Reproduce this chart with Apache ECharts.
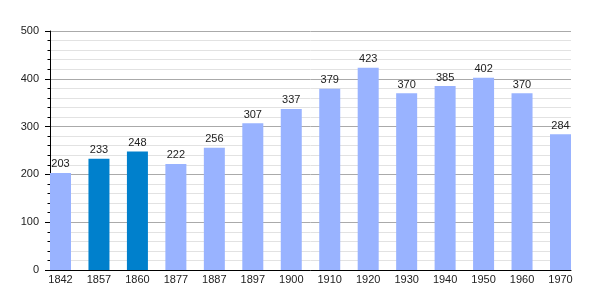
<!DOCTYPE html>
<html><head><meta charset="utf-8">
<script src="https://cdn.jsdelivr.net/npm/echarts@6/dist/echarts.min.js"></script>
<style>html,body{margin:0;padding:0;background:#fff}#c{width:600px;height:300px}</style>
</head><body><div id="c"></div>
<script>
const years = ['1842','1857','1860','1877','1887','1897','1900','1910','1920','1930','1940','1950','1960','1970'];
const population = [203,233,248,222,256,307,337,379,423,370,385,402,370,284];
const highlighted = ['1857','1860'];
const yTicks = [0,100,200,300,400,500];

const chart = echarts.init(document.getElementById('c'), null, {renderer:'canvas'});
const font = 'Liberation Sans, Arial, sans-serif';
chart.setOption({
  animation:false,
  backgroundColor:'#fff',
  grid:[
    {left:50, right:29, top:31, bottom:30},
    {left:60.5, right:39.5, top:31, bottom:30}
  ],
  xAxis:[
    {gridIndex:0, type:'value', min:0, max:1, axisLine:{show:true, lineStyle:{color:'#000', width:1}}, axisTick:{show:false}, axisLabel:{show:false}, splitLine:{show:false}},
    {gridIndex:1, type:'category', data:years, boundaryGap:false, axisLine:{show:false}, axisTick:{show:false}, axisLabel:{margin:4, fontSize:11, fontFamily:font, color:'#222', interval:0}, splitLine:{show:false}}
  ],
  yAxis:[
    {gridIndex:0, type:'value', min:yTicks[0], max:yTicks[yTicks.length-1], interval:100,
     axisLine:{show:true, lineStyle:{color:'#000', width:1}},
     axisTick:{show:true, length:5, lineStyle:{color:'#000'}},
     minorTick:{show:true, splitNumber:5, length:2.5, lineStyle:{color:'#000'}},
     axisLabel:{margin:11, fontSize:11, fontFamily:font, color:'#222'},
     splitLine:{show:true, lineStyle:{color:'#aaa', width:1}},
     minorSplitLine:{show:true, lineStyle:{color:'#e2e2e2', width:1}}},
    {gridIndex:1, type:'value', min:0, max:500, show:false, splitLine:{show:false}}
  ],
  series:[{
    type:'bar', xAxisIndex:1, yAxisIndex:1, barWidth:21,
    data: population.map((v,i)=>({value:v, itemStyle:{color: highlighted.includes(years[i]) ? '#0080cc' : '#99b3ff'}})),
    label:{show:true, position:'top', distance:3, fontSize:11, fontFamily:font, color:'#222'}
  }]
});
</script></body></html>
